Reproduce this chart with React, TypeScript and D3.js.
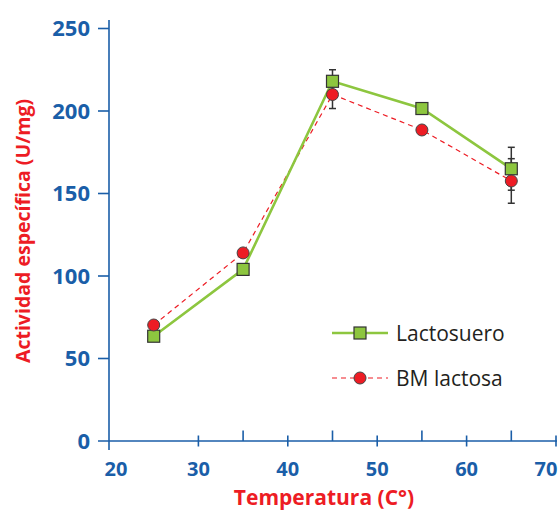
import { useEffect, useRef } from "react";
import * as d3 from "d3";

// temperatures (°C)
const temps = [25, 35, 45, 55, 65];
// specific activity (U/mg)
const lactosuero = [63.5, 104, 218, 201.5, 165];
const lactosueroErr = [0, 0, 7, 0, 13];
const bmLactosa = [70.3, 114, 210, 188.5, 157.6];
const bmLactosaErr = [0, 0, 8.5, 0, 13.5];

const yTicks = [0, 50, 100, 150, 200, 250];
const xTicks = [20, 30, 40, 50, 60, 70];
const xMinorTicks = [35, 45, 55, 65];

const BLUE = "#1a5ea8";
const RED = "#ed1c24";
const GREEN = "#8dc63f";
const FONT = "'Open Sans', 'Noto Sans', sans-serif";

const App = () => {
  const svgRef = useRef<SVGSVGElement | null>(null);

  useEffect(() => {
    const width = 560;
    const height = 510;
    const svg = d3.select(svgRef.current).attr("width", width).attr("height", height);
    svg.selectAll("*").remove();

    const x = d3.scaleLinear().domain([20, 70]).range([109, 556]);
    const y = d3.scaleLinear().domain([0, 250]).range([441, 28.5]);

    // axes lines
    svg.append("line")
      .attr("x1", x(20)).attr("x2", x(20))
      .attr("y1", 20).attr("y2", 450)
      .attr("stroke", BLUE).attr("stroke-width", 1.6);
    svg.append("line")
      .attr("x1", 98).attr("x2", 557)
      .attr("y1", y(0)).attr("y2", y(0))
      .attr("stroke", BLUE).attr("stroke-width", 1.6);

    // y ticks
    svg.selectAll(".ytick")
      .data(yTicks.filter((d) => d > 0))
      .enter()
      .append("line")
      .attr("x1", 98).attr("x2", x(20))
      .attr("y1", (d) => y(d)).attr("y2", (d) => y(d))
      .attr("stroke", BLUE).attr("stroke-width", 1.6);

    svg.selectAll(".ylabel")
      .data(yTicks)
      .enter()
      .append("text")
      .attr("x", 90)
      .attr("y", (d) => y(d))
      .attr("dy", "0.36em")
      .attr("text-anchor", "end")
      .attr("fill", BLUE)
      .style("font-family", FONT)
      .style("font-weight", 700)
      .style("font-size", "22px")
      .text((d) => d);

    // x ticks
    svg.selectAll(".xtick")
      .data(xTicks.filter((d) => d > 20))
      .enter()
      .append("line")
      .attr("x1", (d) => x(d)).attr("x2", (d) => x(d))
      .attr("y1", y(0) - 5.5).attr("y2", y(0) + 5.5)
      .attr("stroke", BLUE).attr("stroke-width", 1.6);
    svg.selectAll(".xminor")
      .data(xMinorTicks)
      .enter()
      .append("line")
      .attr("x1", (d) => x(d)).attr("x2", (d) => x(d))
      .attr("y1", y(0) - 10.5).attr("y2", y(0))
      .attr("stroke", BLUE).attr("stroke-width", 1.6);

    svg.selectAll(".xlabel")
      .data(xTicks)
      .enter()
      .append("text")
      .attr("x", (d) => Math.min(Math.max(x(d), 116), 546))
      .attr("y", 476)
      .attr("text-anchor", "middle")
      .attr("fill", BLUE)
      .style("font-family", FONT)
      .style("font-weight", 700)
      .style("font-size", "20px")
      .text((d) => d);

    // axis titles
    svg.append("text")
      .attr("transform", `translate(30,231) rotate(-90)`)
      .attr("text-anchor", "middle")
      .attr("fill", RED)
      .style("font-family", FONT)
      .style("font-weight", 700)
      .style("font-size", "19.5px")
      .text("Actividad específica (U/mg)");
    svg.append("text")
      .attr("x", 324)
      .attr("y", 505)
      .attr("text-anchor", "middle")
      .attr("fill", RED)
      .style("font-family", FONT)
      .style("font-weight", 700)
      .style("font-size", "21px")
      .text("Temperatura (C°)");

    // error bars
    const drawErr = (vals: number[], errs: number[]) => {
      temps.forEach((t, i) => {
        if (!errs[i]) return;
        const cx = x(t);
        const top = y(vals[i] + errs[i]);
        const bot = y(vals[i] - errs[i]);
        const g = svg.append("g").attr("stroke", "#333").attr("stroke-width", 1.5);
        g.append("line").attr("x1", cx).attr("x2", cx).attr("y1", top).attr("y2", bot);
        g.append("line").attr("x1", cx - 3.5).attr("x2", cx + 3.5).attr("y1", top).attr("y2", top);
        g.append("line").attr("x1", cx - 3.5).attr("x2", cx + 3.5).attr("y1", bot).attr("y2", bot);
      });
    };
    drawErr(lactosuero, lactosueroErr);
    drawErr(bmLactosa, bmLactosaErr);

    const line = d3.line<number>()
      .x((_, i) => x(temps[i]))
      .y((d) => y(d));

    svg.append("path")
      .attr("d", line(bmLactosa))
      .attr("fill", "none")
      .attr("stroke", RED)
      .attr("stroke-width", 1.2)
      .attr("stroke-dasharray", "5,4");
    svg.append("path")
      .attr("d", line(lactosuero))
      .attr("fill", "none")
      .attr("stroke", GREEN)
      .attr("stroke-width", 2.6);

    const sq = 12;
    svg.selectAll(".sq")
      .data(lactosuero)
      .enter()
      .append("rect")
      .attr("x", (_, i) => x(temps[i]) - sq / 2)
      .attr("y", (d) => y(d) - sq / 2)
      .attr("width", sq)
      .attr("height", sq)
      .attr("fill", GREEN)
      .attr("stroke", "#333")
      .attr("stroke-width", 1.2);
    svg.selectAll(".ci")
      .data(bmLactosa)
      .enter()
      .append("circle")
      .attr("cx", (_, i) => x(temps[i]))
      .attr("cy", (d) => y(d))
      .attr("r", 6)
      .attr("fill", RED)
      .attr("stroke", "#444")
      .attr("stroke-width", 1);

    // legend
    const lg = svg.append("g");
    lg.append("line")
      .attr("x1", 332).attr("x2", 388).attr("y1", 333).attr("y2", 333)
      .attr("stroke", GREEN).attr("stroke-width", 2.6);
    lg.append("rect")
      .attr("x", 360 - sq / 2).attr("y", 333 - sq / 2)
      .attr("width", sq).attr("height", sq)
      .attr("fill", GREEN).attr("stroke", "#333").attr("stroke-width", 1.2);
    lg.append("text")
      .attr("x", 396).attr("y", 341)
      .attr("fill", "#231f20")
      .style("font-family", FONT)
      .style("font-size", "21px")
      .text("Lactosuero");
    lg.append("line")
      .attr("x1", 332).attr("x2", 388).attr("y1", 378).attr("y2", 378)
      .attr("stroke", RED).attr("stroke-width", 1.2)
      .attr("stroke-dasharray", "5,4");
    lg.append("circle")
      .attr("cx", 360).attr("cy", 378).attr("r", 6)
      .attr("fill", RED).attr("stroke", "#444").attr("stroke-width", 1);
    lg.append("text")
      .attr("x", 396).attr("y", 386)
      .attr("fill", "#231f20")
      .style("font-family", FONT)
      .style("font-size", "21px")
      .text("BM lactosa");
  }, []);

  return (
    <svg
      ref={svgRef}
      style={{ position: "absolute", left: 0, top: 0, background: "#fff" }}
    ></svg>
  );
};

export default App;
